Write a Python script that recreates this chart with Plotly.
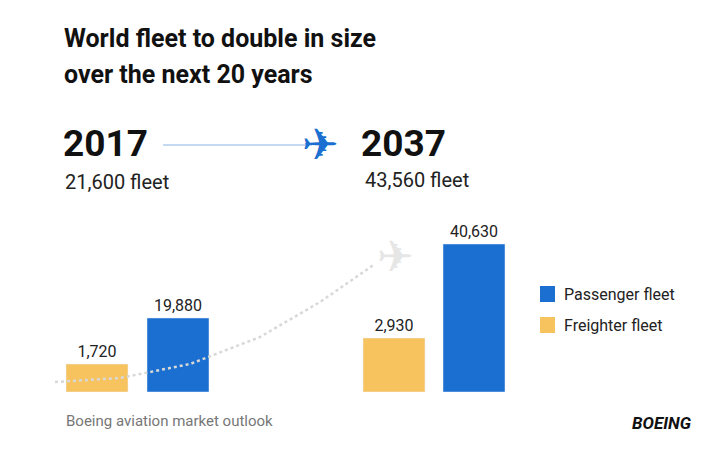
import plotly.graph_objects as go

# bars: label value and drawn height (chart is illustrative, not to scale)
bars = {
    "x": [97, 178, 394, 474],
    "value": ["1,720", "19,880", "2,930", "40,630"],
    "height": [28, 74, 54, 148],
    "color": ["#f7c35f", "#1a6fd0", "#f7c35f", "#1a6fd0"],
}

W, H = 707, 469
OFF = 8  # page offset of the plot
BASE = 392  # baseline, px from top

fig = go.Figure()
fig.add_bar(
    x=bars["x"], y=bars["height"], width=62, marker_color=bars["color"],
    text=bars["value"], textposition="outside",
    textfont=dict(size=16, color="#222", family="Roboto"), cliponaxis=False,
)

# dotted flight path
px_path = [55, 120, 190, 260, 320, 375]
py_path = [10, 14, 28, 55, 90, 128]
fig.add_scatter(x=px_path, y=py_path, mode="lines",
                line=dict(color="#d8d8d8", width=2.5, dash="dot"))

# arrow line between years
fig.add_scatter(x=[163, 312], y=[BASE - 145] * 2, mode="lines",
                line=dict(color="#8cb4e6", width=1.2))

fig.update_layout(
    width=W, height=H, margin=dict(l=0, r=0, t=0, b=0),
    plot_bgcolor="white", paper_bgcolor="white", showlegend=False,
    xaxis=dict(range=[OFF, W + OFF], visible=False, fixedrange=True),
    yaxis=dict(range=[0, BASE - OFF], domain=[(H - BASE + OFF) / H, 1], visible=False),
    font=dict(family="Roboto", color="#222"),
)
fig.update_yaxes(range=[0, BASE - OFF])

def txt(x, y, s, size, **kw):
    fig.add_annotation(x=(x - OFF) / W, y=1 - (y - OFF) / H, xref="paper", yref="paper",
                       text=s, showarrow=False, xanchor="left", yanchor="middle",
                       font=dict(size=size, **kw))

txt(62, 38, "<b>World fleet to double in size</b>", 25, color="#111")
txt(62, 75, "<b>over the next 20 years</b>", 25, color="#111")
txt(61, 143, "<b>2017</b>", 37, color="#111")
txt(63, 182, "21,600 fleet", 20, color="#222")
txt(359, 143, "<b>2037</b>", 37, color="#111")
txt(363, 180, "43,560 fleet", 20, color="#222")
txt(300, 145, "✈", 44, color="#1a6fd0", family="DejaVu Sans")
txt(375, 256, "✈", 44, color="#e6e6e6", family="DejaVu Sans")

for y, c, s in [(294, "#1a6fd0", "Passenger fleet"), (325, "#f7c35f", "Freighter fleet")]:
    fig.add_shape(type="rect", xref="paper", yref="paper",
                  x0=(540 - OFF) / W, x1=(555 - OFF) / W,
                  y0=1 - (y + 8 - OFF) / H, y1=1 - (y - 8 - OFF) / H,
                  fillcolor=c, line_width=0)
    txt(562, y, s, 16, color="#222")

txt(64, 421, "Boeing aviation market outlook", 15, color="#777")
txt(630, 423, "<b><i>BOEING</i></b>", 17, color="#111")

fig.write_html("out.html")
